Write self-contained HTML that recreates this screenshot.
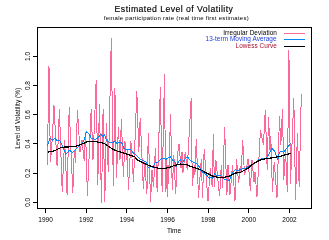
<!DOCTYPE html>
<html><head><meta charset="utf-8"><style>
html,body{margin:0;padding:0;background:#fff;width:329px;height:239px;overflow:hidden}
svg text{font-family:"Liberation Sans",sans-serif}
svg{will-change:transform}
</style></head><body>
<svg width="329" height="239" viewBox="0 0 329 239" style="display:block">
<rect width="329" height="239" fill="#fff"/>
<text x="174" y="12.4" text-anchor="middle" font-size="8.7" letter-spacing="0.45" fill="#000" stroke="#000" stroke-width="0.15">Estimated Level of Volatility</text>
<text x="176.4" y="20.0" text-anchor="middle" font-size="6.0" letter-spacing="0.26" fill="#000">female participation rate (real time first estimates)</text>
<polyline points="47.3,164.6 49.0,65.8 50.4,162.1 52.2,140.0 54.0,105.4 57.1,166.4 59.4,109.2 62.2,191.5 64.6,140.0 67.1,194.6 69.2,107.0 72.8,193.4 74.3,150.0 75.5,162.7 77.5,110.4 80.0,152.0 82.0,140.0 84.2,160.9 85.6,132.0 87.4,195.5 91.2,108.9 93.0,160.0 96.2,80.0 97.8,184.5 99.4,103.8 101.5,202.7 103.1,108.9 104.8,201.6 106.4,123.1 108.3,172.3 111.3,38.0 113.3,186.0 114.9,88.0 116.5,177.6 118.4,126.8 120.0,160.0 121.4,118.7 123.4,176.9 124.9,141.0 126.5,160.0 127.2,150.0 128.4,189.8 130.9,140.7 133.5,182.4 136.8,91.0 138.8,152.0 140.2,118.1 143.4,189.2 144.8,162.0 146.9,194.3 148.3,132.9 150.6,201.6 152.0,170.0 153.5,187.4 155.4,148.0 157.2,192.4 160.4,87.0 162.1,191.5 164.5,74.1 165.6,192.4 166.3,160.0 167.2,196.6 168.0,165.0 168.6,183.7 170.5,114.2 172.3,189.7 173.8,155.0 175.7,194.3 177.5,155.0 179.0,144.3 181.0,168.0 182.0,152.0 183.0,172.7 185.2,152.0 187.2,170.0 191.2,98.0 192.3,186.4 194.2,165.0 194.9,175.0 196.3,138.8 198.5,197.5 201.3,159.0 202.5,197.5 204.2,148.8 208.0,201.2 210.3,168.0 212.2,187.2 213.4,133.7 214.4,186.7 215.9,160.0 219.6,196.1 221.3,165.0 222.7,187.5 224.6,126.8 226.9,195.0 228.0,165.0 230.0,194.7 232.5,165.0 235.0,200.7 236.5,159.0 238.6,183.0 240.2,166.0 241.2,173.4 242.7,139.8 244.5,175.0 246.6,167.0 248.1,159.0 250.3,190.6 252.0,160.0 254.0,182.0 255.0,172.0 257.0,196.6 260.4,130.1 263.4,145.2 265.3,109.9 267.2,170.4 268.5,116.8 270.0,150.0 270.8,136.0 272.4,191.5 274.2,162.0 277.0,197.5 279.5,115.9 280.8,145.2 282.5,109.0 283.8,179.6 285.5,150.0 287.3,191.5 288.9,49.7 290.5,183.7 293.8,98.0 295.6,199.8 297.4,132.8 299.2,186.5 301.3,94.1" fill="none" stroke="#f86b98" stroke-width="1.0" shape-rendering="crispEdges"/><polyline points="47.5,145.9 50.0,138.4 52.5,140.0 55.0,138.4 57.5,140.9 60.0,140.9 62.6,146.7 65.9,154.3 69.3,150.1 72.6,152.6 76.0,149.3 80.1,145.1 83.5,141.7 86.5,131.7 89.3,134.2 90.0,135.4 91.4,138.8 93.5,138.8 95.5,139.5 97.6,138.1 101.0,134.0 103.1,137.4 104.5,134.7 106.6,140.2 109.3,142.3 112.1,143.0 114.9,140.9 116.9,143.6 119.7,142.3 121.8,143.0 123.8,148.5 127.3,149.9 130.7,149.2 132.8,152.6 135.0,154.0 139.2,158.4 143.4,160.9 145.9,161.8 148.4,167.6 150.9,165.9 152.6,167.6 155.1,162.6 158.5,161.8 161.8,158.4 166.0,159.3 170.2,156.7 172.7,160.1 175.0,161.8 176.0,167.2 177.8,162.6 180.1,159.8 182.4,162.6 185.2,158.9 187.5,157.0 190.7,160.8 194.0,162.6 196.8,164.0 199.5,166.8 201.4,171.3 206.0,174.5 209.2,178.2 211.0,176.8 212.9,178.2 214.7,173.6 217.0,175.9 220.7,175.9 224.0,179.1 226.8,180.0 229.5,180.0 232.3,173.1 235.0,169.8 237.8,170.7 242.5,168.8 246.3,167.9 249.1,166.0 251.9,165.1 256.0,162.6 259.3,159.3 262.5,158.6 266.0,158.4 269.4,153.4 271.9,148.4 274.4,150.9 276.9,156.8 277.8,160.1 279.4,152.6 282.0,150.9 283.6,152.6 286.0,149.2 290.5,143.5" fill="none" stroke="#0589f8" stroke-width="1" shape-rendering="crispEdges"/><polyline points="47.5,152.2 52.5,151.3 56.7,149.7 61.7,147.2 67.6,147.0 76.0,146.3 81.0,144.6 86.0,142.1 90.0,141.2 96.9,141.8 103.8,143.2 108.0,145.9 112.8,149.3 117.6,151.3 123.1,152.8 128.7,154.8 135.0,157.0 136.7,159.5 141.0,161.8 145.1,163.7 149.3,165.5 153.4,167.0 157.6,168.0 161.8,168.6 166.0,168.2 170.2,167.0 175.0,165.3 180.6,164.0 187.0,164.9 191.6,166.7 194.0,167.7 199.5,169.2 206.0,172.7 212.4,175.9 218.0,177.3 224.0,177.4 229.5,176.0 235.0,173.2 240.6,172.2 244.4,170.4 248.2,168.2 251.0,165.6 253.8,163.5 257.5,161.3 261.3,159.7 266.9,158.6 272.6,157.8 277.3,156.8 282.0,155.9 286.2,154.6 290.5,153.3" fill="none" stroke="#000" stroke-width="1.2" shape-rendering="crispEdges"/>
<rect x="37.5" y="27.5" width="274" height="181" fill="none" stroke="#000" stroke-width="1"/>
<line x1="33" y1="202.5" x2="37.5" y2="202.5" stroke="#000" stroke-width="1"/>
<text transform="translate(30,202.30) rotate(-90)" text-anchor="middle" font-size="6.5" fill="#000">0.0</text>
<line x1="33" y1="173.5" x2="37.5" y2="173.5" stroke="#000" stroke-width="1"/>
<text transform="translate(30,173.12) rotate(-90)" text-anchor="middle" font-size="6.5" fill="#000">0.2</text>
<line x1="33" y1="143.5" x2="37.5" y2="143.5" stroke="#000" stroke-width="1"/>
<text transform="translate(30,143.94) rotate(-90)" text-anchor="middle" font-size="6.5" fill="#000">0.4</text>
<line x1="33" y1="114.5" x2="37.5" y2="114.5" stroke="#000" stroke-width="1"/>
<text transform="translate(30,114.76) rotate(-90)" text-anchor="middle" font-size="6.5" fill="#000">0.6</text>
<line x1="33" y1="85.5" x2="37.5" y2="85.5" stroke="#000" stroke-width="1"/>
<text transform="translate(30,85.58) rotate(-90)" text-anchor="middle" font-size="6.5" fill="#000">0.8</text>
<line x1="33" y1="56.5" x2="37.5" y2="56.5" stroke="#000" stroke-width="1"/>
<text transform="translate(30,56.40) rotate(-90)" text-anchor="middle" font-size="6.5" fill="#000">1.0</text>
<line x1="45.5" y1="208.5" x2="45.5" y2="213" stroke="#000" stroke-width="1"/>
<text x="45.60" y="222" text-anchor="middle" font-size="6.5" fill="#000">1990</text>
<line x1="86.5" y1="208.5" x2="86.5" y2="213" stroke="#000" stroke-width="1"/>
<text x="86.25" y="222" text-anchor="middle" font-size="6.5" fill="#000">1992</text>
<line x1="126.5" y1="208.5" x2="126.5" y2="213" stroke="#000" stroke-width="1"/>
<text x="126.90" y="222" text-anchor="middle" font-size="6.5" fill="#000">1994</text>
<line x1="167.5" y1="208.5" x2="167.5" y2="213" stroke="#000" stroke-width="1"/>
<text x="167.55" y="222" text-anchor="middle" font-size="6.5" fill="#000">1996</text>
<line x1="208.5" y1="208.5" x2="208.5" y2="213" stroke="#000" stroke-width="1"/>
<text x="208.20" y="222" text-anchor="middle" font-size="6.5" fill="#000">1998</text>
<line x1="248.5" y1="208.5" x2="248.5" y2="213" stroke="#000" stroke-width="1"/>
<text x="248.85" y="222" text-anchor="middle" font-size="6.5" fill="#000">2000</text>
<line x1="289.5" y1="208.5" x2="289.5" y2="213" stroke="#000" stroke-width="1"/>
<text x="289.50" y="222" text-anchor="middle" font-size="6.5" fill="#000">2002</text>
<text x="174" y="232.8" text-anchor="middle" font-size="6.5" fill="#000">Time</text>
<text transform="translate(19.5,118.3) rotate(-90)" text-anchor="middle" font-size="6.5" letter-spacing="0.03" fill="#000">Level of Volatility (%)</text>
<text x="277" y="34.7" text-anchor="end" font-size="6.4" letter-spacing="0.08" fill="#000">Irregular Deviation</text>
<text x="276.6" y="40.9" text-anchor="end" font-size="6.4" letter-spacing="0.07" fill="#1a3ce0">13-term Moving Average</text>
<text x="277" y="47.6" text-anchor="end" font-size="6.4" letter-spacing="0.08" fill="#a81030">Lowess Curve</text>
<line x1="284" y1="33.5" x2="305" y2="33.5" stroke="#f86b98" stroke-width="1"/>
<line x1="284" y1="39.5" x2="305" y2="39.5" stroke="#0589f8" stroke-width="1"/>
<line x1="284" y1="46.5" x2="305" y2="46.5" stroke="#000" stroke-width="1"/>
</svg>
</body></html>
